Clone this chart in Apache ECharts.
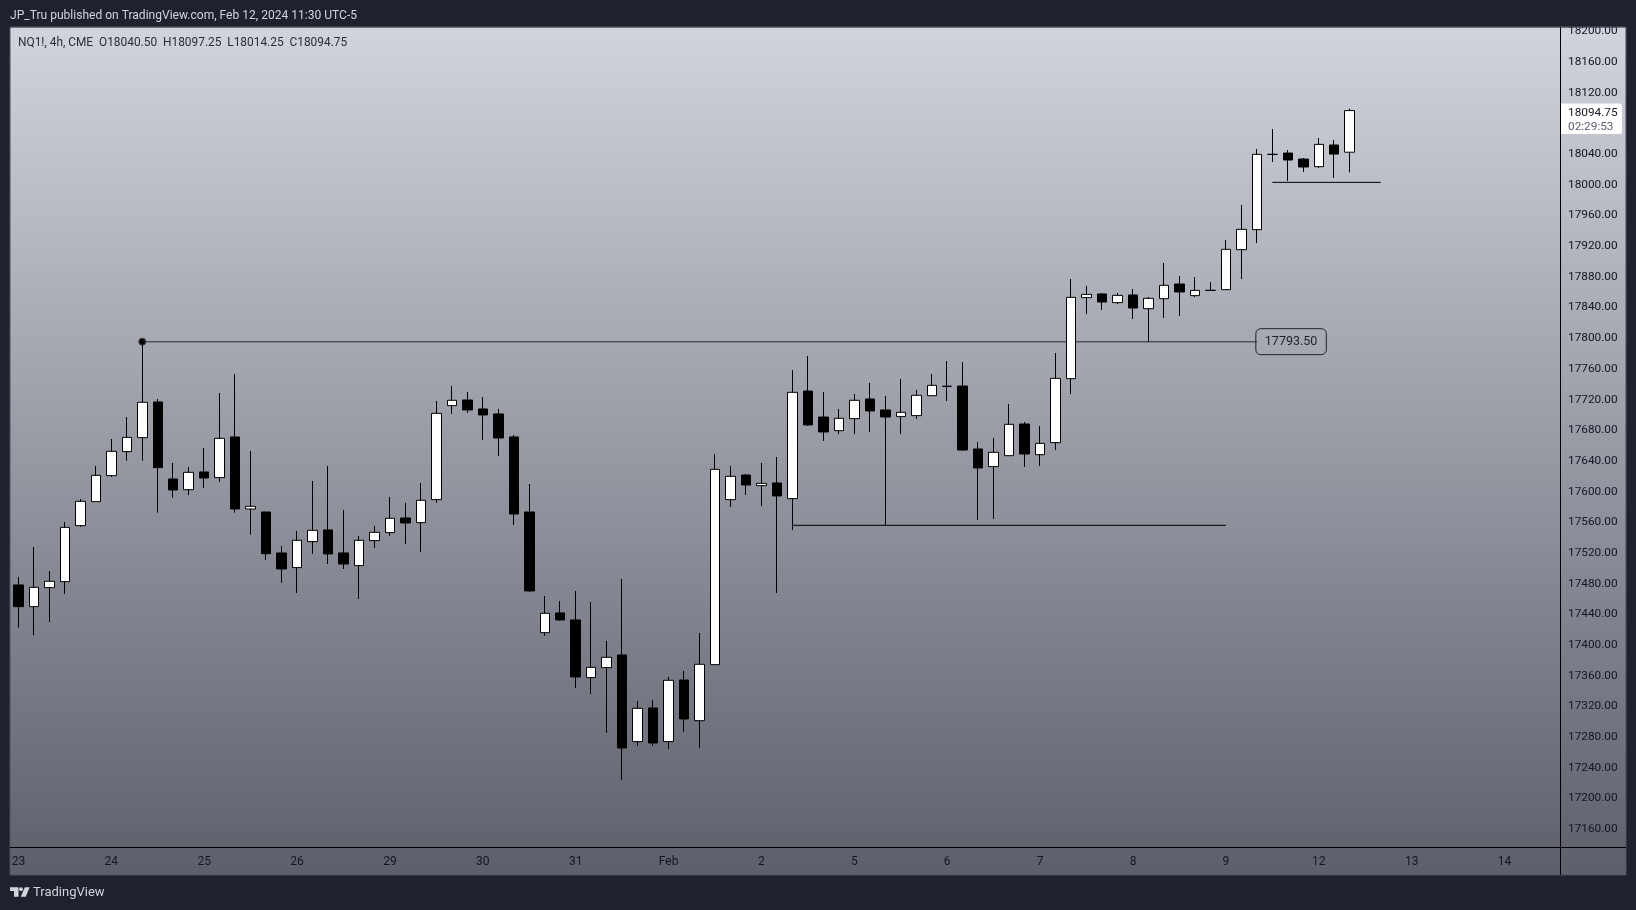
<!DOCTYPE html>
<html><head><meta charset="utf-8">
<style>html,body{margin:0;padding:0;background:#1e222d}#c{width:1636px;height:910px}</style>
<script src="https://cdn.jsdelivr.net/npm/echarts@6/dist/echarts.min.js"></script>
</head><body><div id="c"></div>
<script>
const dayLabels = ['23','24','25','26','29','30','31','Feb','2','5','6','7','8','9','12','13','14'];
const barsPerDay = 6;
const slotCount = 100;
const priceTicks = [17160,17200,17240,17280,17320,17360,17400,17440,17480,17520,17560,17600,17640,17680,17720,17760,17800,17840,17880,17920,17960,18000,18040,18080,18120,18160,18200];
const opens = [17476.4,17448.1,17472.9,17480.7,17553.7,17585,17618.9,17650.2,17668.4,17714.9,
17614.5,17600.6,17623.7,17616.3,17669.3,17575.4,17571.5,17518.1,17499,17532.9,
17548.1,17518.1,17501.6,17534.2,17544.6,17563.7,17557.6,17587.6,17710.1,17717.5,
17705.8,17699.3,17669.3,17571.5,17414.2,17439.9,17430.8,17355.6,17368.6,17385.1,
17272.2,17316,17272.2,17352.5,17299.5,17372.5,17587.6,17619.7,17605.8,17609.3,
17588.9,17729.2,17695.3,17677.5,17693.2,17718.8,17704.5,17695.8,17697.1,17723.1,
17735.3,17735.7,17653.6,17630.6,17644.9,17686.2,17646.2,17661.9,17745.3,17850.9,
17855.7,17844.4,17854.4,17836.5,17849.6,17868.7,17853.5,17860.4,17861.3,17913.4,
17939.5,18037.7,18039.4,18031.6,18021.6,18049.9,18040.5];
const closes = [17448.1,17473.3,17481.2,17551.5,17585.4,17619.3,17650.6,17668.8,17714.5,17629.3,
17600.2,17623.2,17615.8,17667.5,17575.4,17578.9,17517.2,17497.2,17534.6,17547.6,
17516.8,17503.7,17534.6,17545,17563.3,17557.2,17586.7,17700.1,17717.1,17704.5,
17698,17668,17568.9,17468.6,17439.4,17430.8,17356.5,17369,17382.1,17263.9,
17315.6,17270.4,17352.1,17301.7,17373,17627.1,17618,17606.7,17608.9,17592.4,
17727.5,17684.9,17675.8,17693.6,17717.1,17703.2,17695.3,17701.4,17723.6,17736.6,
17735.3,17652.3,17628.9,17649.3,17685.8,17647.1,17661,17745.7,17851.3,17855.2,
17845.2,17853.9,17837.4,17850,17867,17858.3,17860.4,17860.4,17913.9,17939.9,
18037.7,18037.7,18030.3,18021.2,18050.7,18038.1,18094.75];
const lows = [17420.8,17410.8,17428.1,17464.6,17552,17585,17617.1,17638.4,17638.4,17570.7,
17590.2,17593.7,17602.8,17610.6,17570.7,17542,17509,17479,17465.9,17516.8,
17503.7,17497.2,17458.1,17524.6,17540.2,17529.8,17519.4,17583.3,17699.3,17700.6,
17665.4,17644.5,17554.6,17467.2,17409.9,17429.4,17342.1,17334.3,17283.5,17222.2,
17266.5,17266.5,17262.6,17284.8,17263.9,17372.5,17578,17593.7,17579.3,17465.9,
17548,17683.6,17664.1,17673.2,17673.2,17675.8,17554.6,17673.2,17692.7,17723.1,
17716.2,17651,17561.1,17562.4,17644.9,17630.2,17631.5,17652.3,17725.3,17829.6,
17834.8,17842.6,17823.1,17793.5,17824.4,17827,17851.7,17860.4,17861.3,17875.2,
17922.1,18027.7,18002.9,18014.7,18019.9,18006.9,18014.25];
const highs = [17486.8,17525.9,17494.6,17558.5,17588.5,17631.5,17666.7,17695.3,17793.5,17718.8,
17635.4,17630.2,17654.9,17726.6,17751.4,17651,17571.5,17527.2,17546.8,17611.9,
17631.5,17574.1,17540.2,17553.3,17591.1,17583.3,17609.3,17716.2,17735.8,17727.9,
17721.4,17705.8,17671.9,17608,17462,17455.5,17468.6,17454.2,17403.4,17484.2,
17325.2,17326.5,17356.5,17364.3,17413.8,17647.1,17631.5,17621,17635.4,17643.2,
17756.6,17774.9,17727.9,17705.8,17725.3,17739.7,17722.7,17744.9,17730.5,17751.4,
17768.3,17767,17662.7,17668,17712.3,17688.8,17683.6,17778.8,17875.2,17866.1,
17857,17857,17862.2,17851.7,17896.1,17879.1,17877.8,17871.3,17926,17971.7,
18044.6,18070.7,18043.3,18032.9,18059,18056.4,18097.25];
const resistanceLine = {from:8, to:80, price:17793.5};
const supportLineA = {from:50, to:78, price:17554.1};
const supportLineB = {from:81, to:88, price:18001.2};
const titleText = 'JP_Tru published on TradingView.com, Feb 12, 2024 11:30 UTC-5';
const legendText = 'NQ1!, 4h, CME  O18040.50  H18097.25  L18014.25  C18094.75';
const lastPrice = '18094.75', countdown = '02:29:53', brand = 'TradingView';

const FONT = 'Roboto';
const categories = Array.from({length:slotCount},(_,i)=> i%barsPerDay===0 ? (dayLabels[i/barsPerDay]||'') : '');
const candles = opens.map((o,i)=>[o,closes[i],lows[i],highs[i]]);
const hline = (l,color,width)=>({
  type:'line', z:1, silent:true, symbol:'none', animation:false,
  lineStyle:{color,width}, data:[[l.from,l.price],[l.to,l.price]]
});
const r1 = hline(resistanceLine,'#50535e',1.5);
r1.data = [
  {value:[resistanceLine.from,resistanceLine.price],symbol:'circle',symbolSize:7,itemStyle:{color:'#0a0a0a',borderColor:'#3a3a3a',borderWidth:1}},
  {value:[resistanceLine.to,resistanceLine.price],symbol:'none'}
];
r1.showSymbol = true; r1.showAllSymbol = true; r1.symbol='circle';
r1.endLabel = {show:true,distance:-1,formatter:p=>p.value[1].toFixed(2),fontFamily:FONT,fontSize:12.5,color:'#1e222d',
  padding:[8,9,5,9],borderColor:'#1e222d',borderWidth:1,borderRadius:5};

const chart = echarts.init(document.getElementById('c'),null,{renderer:'canvas',width:1636,height:910});
chart.setOption({
  animation:false,
  backgroundColor:'#1e222d',
  grid:{left:10.7,width:1548,top:27,height:820},
  xAxis:{type:'category',data:categories,boundaryGap:true,
    axisLine:{show:false},axisTick:{show:false},splitLine:{show:false},
    axisLabel:{interval:(i,v)=>v!=='',color:'#131722',fontFamily:FONT,fontSize:12,margin:9,hideOverlap:false}},
  yAxis:{type:'value',position:'right',offset:1.3,min:17134.8,max:18203.7,scale:true,
    axisLine:{show:false},axisTick:{show:false},splitLine:{show:false},
    axisLabel:{customValues:priceTicks,formatter:v=>v.toFixed(2),color:'#131722',fontFamily:FONT,fontSize:11.8,margin:8,align:'left',verticalAlign:'top',lineHeight:3}},
  series:[
    {type:'candlestick',z:2,data:candles,barWidth:10,
     itemStyle:{color:'#ffffff',color0:'#000000',borderColor:'#000000',borderColor0:'#000000',borderColorDoji:'#000000',borderWidth:1}},
    r1, hline(supportLineA,'#000000',1), hline(supportLineB,'#000000',1)
  ],
  graphic:{elements:[
    {type:'rect',z:-10,silent:true,shape:{x:10,y:27,width:1616,height:848},
     style:{fill:new echarts.graphic.LinearGradient(0,0,0,1,[{offset:0,color:'#d1d4dc'},{offset:1,color:'#5d606b'}]),stroke:'#50535e',lineWidth:1}},
    {type:'rect',z:100,silent:true,shape:{x:0,y:0,width:1636,height:26.5},style:{fill:'#1e222d'}},
    {type:'line',z:101,silent:true,shape:{x1:10,y1:27,x2:1626,y2:27},style:{stroke:'#50535e',lineWidth:1}},
    {type:'line',z:90,silent:true,shape:{x1:10,y1:847.5,x2:1626,y2:847.5},style:{stroke:'#000000',lineWidth:1}},
    {type:'line',z:90,silent:true,shape:{x1:1560.5,y1:27,x2:1560.5,y2:875},style:{stroke:'#000000',lineWidth:1}},
    {type:'text',z:101,silent:true,x:10,y:16,style:{text:titleText,fill:'#d1d4dc',font:'12.05px '+FONT,textVerticalAlign:'middle'}},
    {type:'text',z:101,silent:true,x:18,y:43,style:{text:legendText,fill:'#2a2e39',font:'11.9px '+FONT,textVerticalAlign:'middle'}},
    {type:'rect',z:95,silent:true,shape:{x:1561,y:103.5,width:61,height:30.5,r:[0,2,2,0]},style:{fill:'#ffffff'}},
    {type:'text',z:96,silent:true,x:1568,y:113,style:{text:lastPrice,fill:'#131722',font:'11.8px '+FONT,textVerticalAlign:'middle'}},
    {type:'text',z:96,silent:true,x:1568,y:127,style:{text:countdown,fill:'#5d606b',font:'11.8px '+FONT,textVerticalAlign:'middle'}},
    {type:'text',z:101,silent:true,x:33,y:893,style:{text:brand,fill:'#d1d4dc',font:'13px '+FONT,textVerticalAlign:'middle'}},
    {type:'polygon',z:101,silent:true,shape:{points:[[10,887.3],[18.5,887.3],[18.5,896.7],[14,896.7],[14,891],[10,891]]},style:{fill:'#d1d4dc'}},
    {type:'polygon',z:101,silent:true,shape:{points:[[24.8,887.3],[29.7,887.3],[25.7,896.7],[20.8,896.7]]},style:{fill:'#d1d4dc'}},
    {type:'circle',z:101,silent:true,shape:{cx:21,cy:889.2,r:1.9},style:{fill:'#d1d4dc'}}
  ]}
});
</script></body></html>
